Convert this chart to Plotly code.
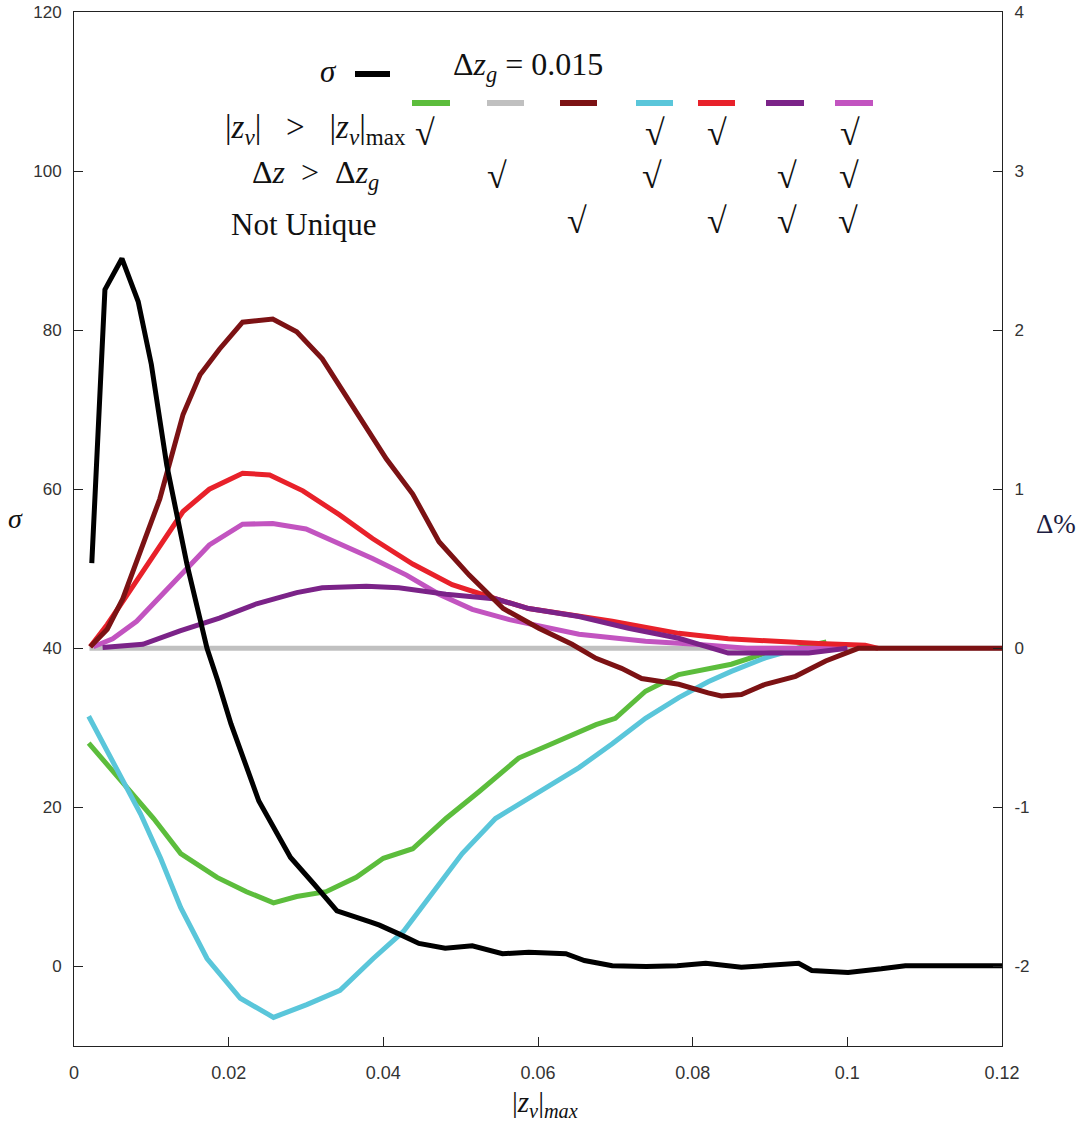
import plotly.graph_objects as go

# ---------------- data ----------------
# black: sigma (left axis)
sig_x = [0.0023, 0.004, 0.0062, 0.0083, 0.010, 0.012, 0.0146, 0.0172, 0.0186, 0.0203, 0.0239, 0.028,
         0.031, 0.034, 0.0383, 0.0395, 0.042, 0.0446, 0.048, 0.0515, 0.0554, 0.0588, 0.0636, 0.066,
         0.0696, 0.074, 0.078, 0.0817, 0.0863, 0.0937, 0.0954, 0.1001, 0.1044, 0.1075, 0.12]
sig_y = [50.7, 85.1, 89.0, 83.6, 75.7, 63.0, 50.6, 40.0, 35.9, 30.5, 20.8, 13.7,
         10.4, 7.0, 5.6, 5.2, 4.1, 2.9, 2.3, 2.6, 1.6, 1.8, 1.6, 0.75,
         0.1, 0.0, 0.1, 0.4, -0.1, 0.4, -0.5, -0.75, -0.3, 0.1, 0.1]

# Delta % curves (right axis)
gray_x = [0.002, 0.12]
gray_y = [0.0, 0.0]

green_x = [0.0019, 0.0065, 0.0103, 0.0138, 0.0185, 0.0223, 0.0258, 0.0288, 0.0326, 0.0365, 0.04,
           0.0438, 0.0481, 0.0524, 0.0575, 0.0618, 0.0675, 0.07, 0.0739, 0.0782, 0.0817, 0.085,
           0.0894, 0.0935, 0.0973]
green_y = [-0.596, -0.855, -1.07, -1.29, -1.44, -1.53, -1.60, -1.56, -1.53, -1.44, -1.32,
           -1.26, -1.07, -0.90, -0.69, -0.60, -0.48, -0.44, -0.27, -0.165, -0.13, -0.10,
           -0.03, 0.0, 0.04]

cyan_x = [0.0019, 0.0055, 0.0086, 0.0112, 0.0138, 0.0172, 0.0215, 0.0258, 0.0301, 0.0344, 0.0387,
          0.0426, 0.0459, 0.0502, 0.0545, 0.0588, 0.0653, 0.0696, 0.0739, 0.0782, 0.082, 0.085,
          0.0894, 0.093, 0.096]
cyan_y = [-0.427, -0.753, -1.04, -1.32, -1.63, -1.95, -2.2, -2.32, -2.24, -2.15, -1.95,
          -1.78, -1.57, -1.29, -1.07, -0.94, -0.75, -0.60, -0.44, -0.31, -0.21, -0.145,
          -0.06, -0.01, 0.0]

dred_x = [0.0021, 0.0043, 0.0063, 0.0085, 0.0111, 0.0141, 0.0163, 0.0188, 0.0218, 0.0257, 0.0288,
          0.0321, 0.036, 0.0404, 0.0438, 0.0472, 0.0511, 0.0555, 0.0601, 0.0644, 0.0675, 0.0708,
          0.0734, 0.0782, 0.082, 0.0837, 0.0863, 0.0894, 0.0933, 0.0972, 0.1014, 0.12]
dred_y = [0.01, 0.12, 0.31, 0.59, 0.94, 1.47, 1.72, 1.88, 2.05, 2.07, 1.99,
          1.82, 1.53, 1.19, 0.97, 0.67, 0.46, 0.25, 0.126, 0.025, -0.063, -0.126,
          -0.19, -0.226, -0.28, -0.30, -0.29, -0.226, -0.176, -0.08, 0.0, 0.0]

red_x = [0.0021, 0.0043, 0.0072, 0.0107, 0.0141, 0.0175, 0.0218, 0.0253, 0.0296, 0.0343, 0.0386,
         0.0438, 0.0489, 0.0546, 0.0588, 0.0696, 0.0782, 0.0846, 0.091, 0.0963, 0.1023, 0.104]
red_y = [0.01, 0.15, 0.36, 0.61, 0.86, 1.0, 1.10, 1.09, 0.99, 0.84, 0.69,
         0.53, 0.40, 0.31, 0.25, 0.17, 0.094, 0.06, 0.04, 0.03, 0.02, 0.0]

mag_x = [0.0025, 0.005, 0.0081, 0.0115, 0.0146, 0.0175, 0.0218, 0.0257, 0.03, 0.0343, 0.0386,
         0.043, 0.0472, 0.0515, 0.0563, 0.0653, 0.0739, 0.0804, 0.087, 0.1]
mag_y = [0.01, 0.06, 0.17, 0.34, 0.50, 0.65, 0.78, 0.785, 0.75, 0.66, 0.565,
         0.46, 0.34, 0.245, 0.18, 0.088, 0.044, 0.025, 0.0, 0.0]

purp_x = [0.0037, 0.0089, 0.0137, 0.0188, 0.0236, 0.0288, 0.0321, 0.0378, 0.042, 0.0481, 0.0546,
          0.0588, 0.0653, 0.0717, 0.0782, 0.0825, 0.0846, 0.095, 0.1]
purp_y = [0.005, 0.025, 0.11, 0.19, 0.28, 0.35, 0.38, 0.39, 0.38, 0.34, 0.31,
          0.25, 0.20, 0.126, 0.063, 0.0, -0.03, -0.03, 0.0]

x_ticks = [0, 0.02, 0.04, 0.06, 0.08, 0.1, 0.12]
x_tick_text = ["0", "0.02", "0.04", "0.06", "0.08", "0.1", "0.12"]
sig_ticks = [0, 20, 40, 60, 80, 100, 120]
sig_tick_text = ["0", "20", "40", "60", "80", "100", "120"]
d_ticks = [-2, -1, 0, 1, 2, 3, 4]
d_tick_text = ["-2", "-1", "0", "1", "2", "3", "4"]

# ---------------- styles ----------------
C_GREEN = "#5cbd3c"
C_GRAY = "#c0c0c0"
C_DRED = "#7c1214"
C_CYAN = "#5ac6da"
C_RED = "#e8212a"
C_PURP = "#7b2388"
C_MAG = "#c254c0"

fig = go.Figure()

delta_series = [
    (gray_x, gray_y, C_GRAY),
    (green_x, green_y, C_GREEN),
    (cyan_x, cyan_y, C_CYAN),
    (mag_x, mag_y, C_MAG),
    (red_x, red_y, C_RED),
    (purp_x, purp_y, C_PURP),
    (dred_x, dred_y, C_DRED),
]
for xs, ys, c in delta_series:
    fig.add_trace(go.Scatter(x=xs, y=ys, mode="lines", yaxis="y",
                             line=dict(color=c, width=5), showlegend=False))

fig.add_trace(go.Scatter(x=sig_x, y=sig_y, mode="lines", yaxis="y2",
                         line=dict(color="black", width=5), showlegend=False))

tick_font = dict(family="Liberation Sans, Arial, sans-serif", size=17, color="#333")
axis_common = dict(ticks="inside", ticklen=9, tickcolor="#222", showline=True, linecolor="#222",
                   linewidth=1, showgrid=False, zeroline=False, automargin=False)

fig.update_layout(
    template="none",
    width=1085, height=1130,
    margin=dict(l=74, r=83, t=12, b=84),
    paper_bgcolor="white", plot_bgcolor="white",
    xaxis=dict(range=[0, 0.12], tickvals=x_ticks, ticktext=x_tick_text, mirror=True,
               tickfont=dict(family=tick_font["family"], size=18, color="#333"),
               ticklabelstandoff=10, **axis_common),
    yaxis=dict(range=[-2.5, 4], tickvals=d_ticks, ticktext=d_tick_text, side="right",
               tickfont=tick_font, ticklabelstandoff=8, **axis_common),
    yaxis2=dict(range=[-10, 120], tickvals=sig_ticks, ticktext=sig_tick_text, side="left",
                overlaying="y", tickfont=tick_font, ticklabelstandoff=8, **axis_common),
)

serif = "Liberation Serif, Times New Roman, serif"

def px2paper(px, py):
    return (px - 74) / 928.0, (1046 - py) / 1034.0

ann = []
def add_text(txt, px, py, size=28, xanchor="center", color="#111"):
    x, y = px2paper(px, py)
    ann.append(dict(text=txt, x=x, y=y, xref="paper", yref="paper", showarrow=False,
                    xanchor=xanchor, yanchor="middle",
                    font=dict(family=serif, size=size, color=color)))

# axis titles
add_text("<i>σ</i>", 15, 518, size=28)
add_text("Δ%", 1056, 524, size=27, color="#1c1c40")
add_text("|<i>z</i><sub><i>v</i></sub>|<sub><i>max</i></sub>", 545, 1104, size=29)

# legend block
add_text("<i>σ</i>", 328, 72, size=31)
add_text("Δ<i>z</i><sub><i>g</i></sub> = 0.015", 528, 66, size=32)
add_text("|<i>z</i><sub><i>v</i></sub>|   >   |<i>z</i><sub><i>v</i></sub>|<sub>max</sub>",
         408, 129, size=33, xanchor="right")
add_text("Δ<i>z</i>  >  Δ<i>z</i><sub><i>g</i></sub>", 381, 174, size=32, xanchor="right")
add_text("Not Unique", 379, 224, size=31, xanchor="right")

checks = [
    (425, 133), (655, 133), (717, 133), (850, 133),
    (497, 176), (652, 176), (787, 176), (849, 176),
    (577, 221), (717, 221), (787, 221), (848, 221),
]
for cx, cy in checks:
    add_text("√", cx, cy, size=36)

shapes = []
def add_dash(x0, x1, py, color, w=6):
    a, y = px2paper(x0, py)
    b, _ = px2paper(x1, py)
    shapes.append(dict(type="line", xref="paper", yref="paper", x0=a, x1=b, y0=y, y1=y,
                       line=dict(color=color, width=w)))

add_dash(355, 390, 74, "black", 6)
for (a, b, c) in [(412, 450, C_GREEN), (487, 524, C_GRAY), (560, 597, C_DRED), (636, 673, C_CYAN),
                  (698, 735, C_RED), (766, 804, C_PURP), (835, 873, C_MAG)]:
    add_dash(a, b, 103, c, 6)

fig.update_layout(annotations=ann, shapes=shapes)

fig.write_html("out.html")
